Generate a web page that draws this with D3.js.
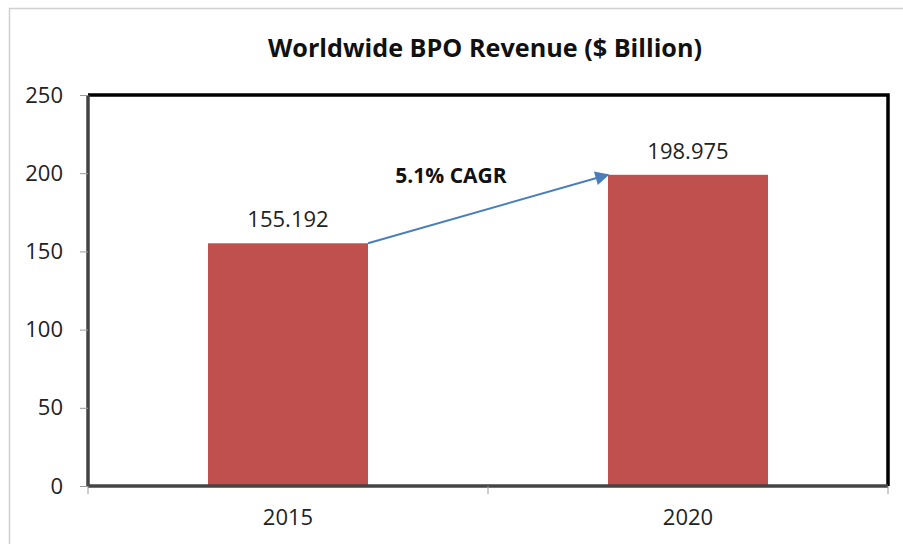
<!DOCTYPE html>
<html>
<head>
<meta charset="utf-8">
<script src="https://cdn.jsdelivr.net/npm/d3@7"></script>
<style>
  body { margin: 0; background: #fff; }
  svg { font-family: "Open Sans", "Liberation Sans", sans-serif; }
</style>
</head>
<body>
<svg id="chart" width="903" height="544"></svg>
<script>
var years = ["2015", "2020"];
var revenue = [155.192, 198.975];
var yTicks = [0, 50, 100, 150, 200, 250];
var cagrLabel = "5.1% CAGR";

var margin = {top: 95, right: 15, bottom: 58, left: 88};
var w = 903 - margin.left - margin.right,
    h = 544 - margin.top - margin.bottom;

var svg = d3.select("#chart");

// outer frame
svg.append("rect")
    .attr("x", 9.5).attr("y", 8.5)
    .attr("width", 920).attr("height", 560)
    .attr("fill", "none")
    .attr("stroke", "#d0d0d0")
    .attr("stroke-width", 1.5);

svg.append("text")
    .attr("x", 485).attr("y", 57)
    .attr("text-anchor", "middle")
    .attr("font-weight", "bold")
    .attr("font-size", 25.2)
    .attr("fill", "#111")
    .text("Worldwide BPO Revenue ($ Billion)");

var g = svg.append("g").attr("transform", "translate(" + margin.left + "," + margin.top + ")");

var x = d3.scaleBand().domain(years).range([0, w]).paddingInner(0.6).paddingOuter(0.3);
var y = d3.scaleLinear().domain([0, 250]).range([h, 0]);

// plot border (top + right black)
g.append("path")
    .attr("d", "M0,0H" + w + "V" + h)
    .attr("fill", "none")
    .attr("stroke", "#000")
    .attr("stroke-width", 3.5);

// bars
g.selectAll(".bar")
    .data(years)
    .enter().append("rect")
    .attr("class", "bar")
    .attr("x", function(d) { return x(d); })
    .attr("y", function(d, i) { return y(revenue[i]); })
    .attr("width", x.bandwidth())
    .attr("height", function(d, i) { return h - y(revenue[i]); })
    .attr("fill", "#c0504d");

// value labels
g.selectAll(".val")
    .data(years)
    .enter().append("text")
    .attr("x", function(d) { return x(d) + x.bandwidth() / 2; })
    .attr("y", function(d, i) { return y(revenue[i]) - 16; })
    .attr("text-anchor", "middle")
    .attr("font-size", 22)
    .attr("fill", "#222")
    .text(function(d, i) { return revenue[i].toFixed(3); });

// y axis
var yAxis = d3.axisLeft(y).tickValues(yTicks).tickSize(8).tickPadding(17);
var ya = g.append("g").call(yAxis);
ya.select(".domain").attr("stroke", "#444").attr("stroke-width", 3.5)
    .attr("d", "M0,0V" + h);
ya.selectAll(".tick line").attr("stroke", "#999");
ya.selectAll(".tick text").attr("font-size", 22).attr("fill", "#222")
    .attr("font-family", "'Open Sans', sans-serif");

// x axis
var xEdge = d3.scaleLinear().domain([0, years.length]).range([0, w]);
var xa = g.append("g").attr("transform", "translate(0," + h + ")");
xa.append("line")
    .attr("x1", 0).attr("x2", w)
    .attr("stroke", "#444").attr("stroke-width", 3.5);
xa.selectAll(".xt")
    .data(d3.range(years.length + 1))
    .enter().append("line")
    .attr("x1", function(d) { return xEdge(d); })
    .attr("x2", function(d) { return xEdge(d); })
    .attr("y1", 0).attr("y2", 8)
    .attr("stroke", "#999");
xa.selectAll(".xl")
    .data(years)
    .enter().append("text")
    .attr("x", function(d) { return x(d) + x.bandwidth() / 2; })
    .attr("y", 39)
    .attr("text-anchor", "middle")
    .attr("font-size", 22)
    .attr("fill", "#222")
    .text(function(d) { return d; });

// CAGR arrow
svg.append("defs").append("marker")
    .attr("id", "arrow")
    .attr("viewBox", "0 0 10 10")
    .attr("refX", 9).attr("refY", 5)
    .attr("markerWidth", 7.5).attr("markerHeight", 7)
    .attr("markerUnits", "strokeWidth")
    .attr("orient", "auto")
    .append("path")
    .attr("d", "M0,0L10,5L0,10z")
    .attr("fill", "#4a7ebb");

var x0 = x(years[0]) + x.bandwidth(), y0 = y(revenue[0]);
var x1 = x(years[1]), y1 = y(revenue[1]);
g.append("line")
    .attr("x1", x0).attr("y1", y0)
    .attr("x2", x1).attr("y2", y1)
    .attr("stroke", "#4a7ebb")
    .attr("stroke-width", 2)
    .attr("marker-end", "url(#arrow)");

g.append("text")
    .attr("x", 363).attr("y", 88)
    .attr("text-anchor", "middle")
    .attr("font-weight", "bold")
    .attr("font-size", 21)
    .attr("fill", "#111")
    .text(cagrLabel);
</script>
</body>
</html>
